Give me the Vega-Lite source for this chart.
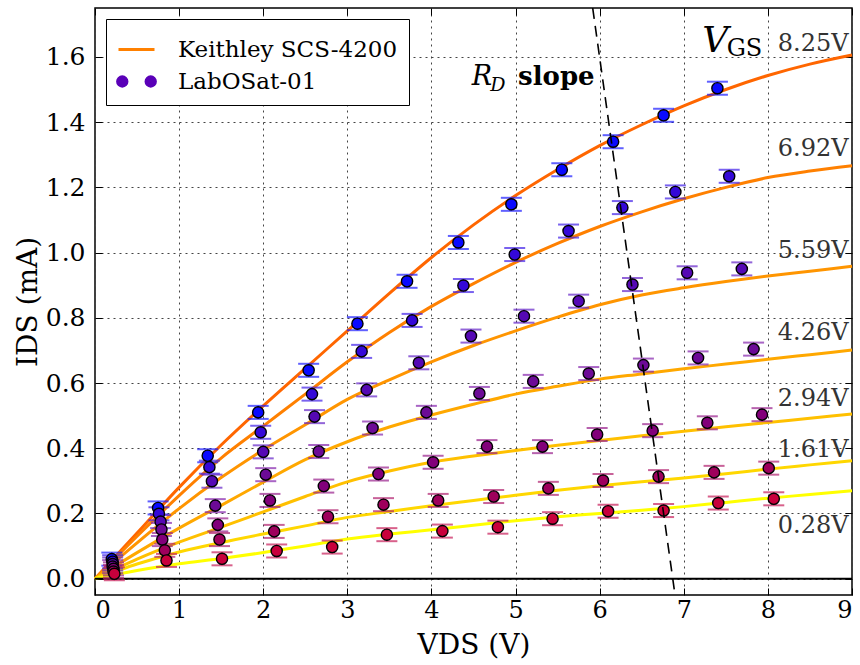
{
  "$schema": "https://vega.github.io/schema/vega-lite/v6.json",
  "width": 757,
  "height": 587,
  "autosize": {"type": "none"},
  "padding": {"left": 95, "top": 8, "right": 8, "bottom": 70},
  "background": "white",
  "config": {
    "font": "DejaVu Serif",
    "view": {"stroke": "black", "strokeWidth": 1.5},
    "legend": {
      "orient": "top-left",
      "offset": 11,
      "title": null,
      "strokeColor": "black",
      "fillColor": "white",
      "padding": 11,
      "labelFont": "DejaVu Serif",
      "labelFontSize": 23,
      "labelColor": "black",
      "labelOffset": 22,
      "symbolSize": 1296,
      "symbolStrokeWidth": 3,
      "symbolOpacity": 1,
      "rowPadding": -3,
      "labelLimit": 400
    }
  },
  "datasets": {
    "fit": [
      {"g":"8.25","v":0,"i":0},{"g":"8.25","v":0.5,"i":0.14},{"g":"8.25","v":1,"i":0.28},{"g":"8.25","v":1.5,"i":0.41},{"g":"8.25","v":2,"i":0.53},{"g":"8.25","v":2.5,"i":0.645},{"g":"8.25","v":3,"i":0.76},{"g":"8.25","v":3.5,"i":0.875},{"g":"8.25","v":4,"i":0.985},{"g":"8.25","v":4.5,"i":1.085},{"g":"8.25","v":5,"i":1.175},{"g":"8.25","v":5.5,"i":1.255},{"g":"8.25","v":6,"i":1.328},{"g":"8.25","v":6.5,"i":1.392},{"g":"8.25","v":7,"i":1.45},{"g":"8.25","v":7.5,"i":1.5},{"g":"8.25","v":8,"i":1.543},{"g":"8.25","v":8.5,"i":1.578},{"g":"8.25","v":9,"i":1.606},
      {"g":"6.92","v":0,"i":0},{"g":"6.92","v":0.5,"i":0.13},{"g":"6.92","v":1,"i":0.255},{"g":"6.92","v":1.5,"i":0.37},{"g":"6.92","v":2,"i":0.468},{"g":"6.92","v":2.5,"i":0.566},{"g":"6.92","v":3,"i":0.665},{"g":"6.92","v":3.5,"i":0.755},{"g":"6.92","v":4,"i":0.835},{"g":"6.92","v":4.5,"i":0.905},{"g":"6.92","v":5,"i":0.97},{"g":"6.92","v":5.5,"i":1.028},{"g":"6.92","v":6,"i":1.08},{"g":"6.92","v":6.5,"i":1.125},{"g":"6.92","v":7,"i":1.165},{"g":"6.92","v":7.5,"i":1.2},{"g":"6.92","v":8,"i":1.23},{"g":"6.92","v":8.5,"i":1.25},{"g":"6.92","v":9,"i":1.266},
      {"g":"5.59","v":0,"i":0},{"g":"5.59","v":0.5,"i":0.11},{"g":"5.59","v":1,"i":0.215},{"g":"5.59","v":1.5,"i":0.31},{"g":"5.59","v":2,"i":0.395},{"g":"5.59","v":2.5,"i":0.472},{"g":"5.59","v":3,"i":0.55},{"g":"5.59","v":3.5,"i":0.61},{"g":"5.59","v":4,"i":0.665},{"g":"5.59","v":4.5,"i":0.715},{"g":"5.59","v":5,"i":0.76},{"g":"5.59","v":5.5,"i":0.802},{"g":"5.59","v":6,"i":0.84},{"g":"5.59","v":6.5,"i":0.87},{"g":"5.59","v":7,"i":0.892},{"g":"5.59","v":7.5,"i":0.911},{"g":"5.59","v":8,"i":0.928},{"g":"5.59","v":8.5,"i":0.943},{"g":"5.59","v":9,"i":0.958},
      {"g":"4.26","v":0,"i":0},{"g":"4.26","v":0.5,"i":0.08},{"g":"4.26","v":1,"i":0.155},{"g":"4.26","v":1.5,"i":0.225},{"g":"4.26","v":2,"i":0.296},{"g":"4.26","v":2.5,"i":0.365},{"g":"4.26","v":3,"i":0.42},{"g":"4.26","v":3.5,"i":0.465},{"g":"4.26","v":4,"i":0.502},{"g":"4.26","v":4.5,"i":0.535},{"g":"4.26","v":5,"i":0.566},{"g":"4.26","v":5.5,"i":0.59},{"g":"4.26","v":6,"i":0.612},{"g":"4.26","v":6.5,"i":0.628},{"g":"4.26","v":7,"i":0.644},{"g":"4.26","v":7.5,"i":0.658},{"g":"4.26","v":8,"i":0.673},{"g":"4.26","v":8.5,"i":0.687},{"g":"4.26","v":9,"i":0.701},
      {"g":"2.94","v":0,"i":0},{"g":"2.94","v":0.5,"i":0.06},{"g":"2.94","v":1,"i":0.112},{"g":"2.94","v":1.5,"i":0.158},{"g":"2.94","v":2,"i":0.205},{"g":"2.94","v":2.5,"i":0.252},{"g":"2.94","v":3,"i":0.297},{"g":"2.94","v":3.5,"i":0.33},{"g":"2.94","v":4,"i":0.357},{"g":"2.94","v":4.5,"i":0.376},{"g":"2.94","v":5,"i":0.393},{"g":"2.94","v":5.5,"i":0.409},{"g":"2.94","v":6,"i":0.424},{"g":"2.94","v":6.5,"i":0.438},{"g":"2.94","v":7,"i":0.452},{"g":"2.94","v":7.5,"i":0.466},{"g":"2.94","v":8,"i":0.479},{"g":"2.94","v":8.5,"i":0.492},{"g":"2.94","v":9,"i":0.505},
      {"g":"1.61","v":0,"i":0},{"g":"1.61","v":0.5,"i":0.045},{"g":"1.61","v":1,"i":0.082},{"g":"1.61","v":1.5,"i":0.111},{"g":"1.61","v":2,"i":0.137},{"g":"1.61","v":2.5,"i":0.162},{"g":"1.61","v":3,"i":0.188},{"g":"1.61","v":3.5,"i":0.206},{"g":"1.61","v":4,"i":0.224},{"g":"1.61","v":4.5,"i":0.24},{"g":"1.61","v":5,"i":0.256},{"g":"1.61","v":5.5,"i":0.271},{"g":"1.61","v":6,"i":0.285},{"g":"1.61","v":6.5,"i":0.297},{"g":"1.61","v":7,"i":0.309},{"g":"1.61","v":7.5,"i":0.322},{"g":"1.61","v":8,"i":0.336},{"g":"1.61","v":8.5,"i":0.349},{"g":"1.61","v":9,"i":0.362},
      {"g":"0.28","v":0,"i":0},{"g":"0.28","v":0.5,"i":0.025},{"g":"0.28","v":1,"i":0.046},{"g":"0.28","v":1.5,"i":0.062},{"g":"0.28","v":2,"i":0.08},{"g":"0.28","v":2.5,"i":0.1},{"g":"0.28","v":3,"i":0.122},{"g":"0.28","v":3.5,"i":0.137},{"g":"0.28","v":4,"i":0.15},{"g":"0.28","v":4.5,"i":0.164},{"g":"0.28","v":5,"i":0.178},{"g":"0.28","v":5.5,"i":0.19},{"g":"0.28","v":6,"i":0.2},{"g":"0.28","v":6.5,"i":0.21},{"g":"0.28","v":7,"i":0.221},{"g":"0.28","v":7.5,"i":0.234},{"g":"0.28","v":8,"i":0.247},{"g":"0.28","v":8.5,"i":0.258},{"g":"0.28","v":9,"i":0.27}
    ],
    "meas": [
      {"g":"8.25","v":0.2,"i":0.06,"err":0.02},{"g":"8.25","v":0.75,"i":0.217,"err":0.02},{"g":"8.25","v":1.34,"i":0.377,"err":0.02},{"g":"8.25","v":1.94,"i":0.51,"err":0.02},{"g":"8.25","v":2.54,"i":0.639,"err":0.02},{"g":"8.25","v":3.12,"i":0.782,"err":0.02},{"g":"8.25","v":3.71,"i":0.912,"err":0.02},{"g":"8.25","v":4.32,"i":1.031,"err":0.02},{"g":"8.25","v":4.95,"i":1.148,"err":0.02},{"g":"8.25","v":5.55,"i":1.254,"err":0.02},{"g":"8.25","v":6.16,"i":1.34,"err":0.02},{"g":"8.25","v":6.76,"i":1.421,"err":0.02},{"g":"8.25","v":7.4,"i":1.504,"err":0.02},
      {"g":"6.92","v":0.21,"i":0.052,"err":0.02},{"g":"6.92","v":0.76,"i":0.199,"err":0.02},{"g":"6.92","v":1.36,"i":0.342,"err":0.02},{"g":"6.92","v":1.97,"i":0.449,"err":0.02},{"g":"6.92","v":2.58,"i":0.566,"err":0.02},{"g":"6.92","v":3.17,"i":0.697,"err":0.02},{"g":"6.92","v":3.77,"i":0.792,"err":0.02},{"g":"6.92","v":4.38,"i":0.899,"err":0.02},{"g":"6.92","v":4.99,"i":0.994,"err":0.02},{"g":"6.92","v":5.63,"i":1.066,"err":0.02},{"g":"6.92","v":6.27,"i":1.138,"err":0.02},{"g":"6.92","v":6.9,"i":1.186,"err":0.02},{"g":"6.92","v":7.54,"i":1.234,"err":0.02},
      {"g":"5.59","v":0.21,"i":0.045,"err":0.02},{"g":"5.59","v":0.78,"i":0.175,"err":0.02},{"g":"5.59","v":1.39,"i":0.299,"err":0.02},{"g":"5.59","v":2.0,"i":0.389,"err":0.02},{"g":"5.59","v":2.61,"i":0.497,"err":0.02},{"g":"5.59","v":3.23,"i":0.579,"err":0.02},{"g":"5.59","v":3.85,"i":0.662,"err":0.02},{"g":"5.59","v":4.47,"i":0.744,"err":0.02},{"g":"5.59","v":5.1,"i":0.805,"err":0.02},{"g":"5.59","v":5.75,"i":0.851,"err":0.02},{"g":"5.59","v":6.39,"i":0.902,"err":0.02},{"g":"5.59","v":7.04,"i":0.938,"err":0.02},{"g":"5.59","v":7.69,"i":0.95,"err":0.02},
      {"g":"4.26","v":0.21,"i":0.037,"err":0.02},{"g":"4.26","v":0.79,"i":0.151,"err":0.02},{"g":"4.26","v":1.43,"i":0.224,"err":0.02},{"g":"4.26","v":2.03,"i":0.319,"err":0.02},{"g":"4.26","v":2.66,"i":0.39,"err":0.02},{"g":"4.26","v":3.3,"i":0.462,"err":0.02},{"g":"4.26","v":3.94,"i":0.51,"err":0.02},{"g":"4.26","v":4.57,"i":0.568,"err":0.02},{"g":"4.26","v":5.21,"i":0.605,"err":0.02},{"g":"4.26","v":5.87,"i":0.629,"err":0.02},{"g":"4.26","v":6.52,"i":0.655,"err":0.02},{"g":"4.26","v":7.17,"i":0.677,"err":0.02},{"g":"4.26","v":7.83,"i":0.704,"err":0.02},
      {"g":"2.94","v":0.22,"i":0.03,"err":0.02},{"g":"2.94","v":0.8,"i":0.12,"err":0.02},{"g":"2.94","v":1.46,"i":0.165,"err":0.02},{"g":"2.94","v":2.08,"i":0.24,"err":0.02},{"g":"2.94","v":2.72,"i":0.284,"err":0.02},{"g":"2.94","v":3.37,"i":0.321,"err":0.02},{"g":"2.94","v":4.02,"i":0.357,"err":0.02},{"g":"2.94","v":4.66,"i":0.405,"err":0.02},{"g":"2.94","v":5.32,"i":0.405,"err":0.02},{"g":"2.94","v":5.97,"i":0.442,"err":0.02},{"g":"2.94","v":6.63,"i":0.454,"err":0.02},{"g":"2.94","v":7.28,"i":0.478,"err":0.02},{"g":"2.94","v":7.93,"i":0.503,"err":0.02},
      {"g":"1.61","v":0.22,"i":0.022,"err":0.02},{"g":"1.61","v":0.83,"i":0.087,"err":0.02},{"g":"1.61","v":1.48,"i":0.12,"err":0.02},{"g":"1.61","v":2.13,"i":0.145,"err":0.02},{"g":"1.61","v":2.77,"i":0.19,"err":0.02},{"g":"1.61","v":3.43,"i":0.227,"err":0.02},{"g":"1.61","v":4.08,"i":0.24,"err":0.02},{"g":"1.61","v":4.74,"i":0.252,"err":0.02},{"g":"1.61","v":5.39,"i":0.277,"err":0.02},{"g":"1.61","v":6.04,"i":0.301,"err":0.02},{"g":"1.61","v":6.7,"i":0.313,"err":0.02},{"g":"1.61","v":7.36,"i":0.326,"err":0.02},{"g":"1.61","v":8.01,"i":0.339,"err":0.02},
      {"g":"0.28","v":0.23,"i":0.015,"err":0.02},{"g":"0.28","v":0.85,"i":0.056,"err":0.02},{"g":"0.28","v":1.51,"i":0.061,"err":0.02},{"g":"0.28","v":2.16,"i":0.085,"err":0.02},{"g":"0.28","v":2.82,"i":0.097,"err":0.02},{"g":"0.28","v":3.47,"i":0.135,"err":0.02},{"g":"0.28","v":4.13,"i":0.146,"err":0.02},{"g":"0.28","v":4.79,"i":0.158,"err":0.02},{"g":"0.28","v":5.44,"i":0.184,"err":0.02},{"g":"0.28","v":6.1,"i":0.207,"err":0.02},{"g":"0.28","v":6.76,"i":0.209,"err":0.02},{"g":"0.28","v":7.41,"i":0.232,"err":0.02},{"g":"0.28","v":8.07,"i":0.245,"err":0.02}
    ],
    "rd": [{"v":5.917,"i":1.75},{"v":6.896,"i":-0.05}],
    "vlabels": [
      {"x":8.96,"y":1.618,"text":"8.25V"},
      {"x":8.96,"y":1.296,"text":"6.92V"},
      {"x":8.96,"y":0.983,"text":"5.59V"},
      {"x":8.96,"y":0.731,"text":"4.26V"},
      {"x":8.96,"y":0.531,"text":"2.94V"},
      {"x":8.96,"y":0.374,"text":"1.61V"},
      {"x":8.96,"y":0.14,"text":"0.28V"}
    ],
    "legend": [{"src":"Keithley SCS-4200"},{"src":"LabOSat-01"}]
  },
  "layer": [
    {
      "data": {"name": "fit"},
      "mark": {"type": "line", "strokeWidth": 3, "interpolate": "monotone"},
      "encoding": {
        "x": {"field": "v", "type": "quantitative", "scale": {"domain": [0, 9], "nice": false, "zero": false},
          "axis": {"orient": "bottom", "values": [0,1,2,3,4,5,6,7,8,9], "format": "d", "grid": true, "gridDash": [2, 4], "gridColor": "#444", "gridWidth": 1, "domain": false, "tickSize": -7, "tickColor": "black", "labelFontSize": 24, "labelColor": "black", "labelFont": "DejaVu Serif", "labelPadding": 10, "title": "VDS (V)", "titleFont": "DejaVu Serif", "titleFontSize": 28, "titleFontWeight": "normal", "titleColor": "black", "titlePadding": 9}},
        "y": {"field": "i", "type": "quantitative", "scale": {"domain": [-0.05, 1.75], "nice": false, "zero": false},
          "axis": {"orient": "left", "values": [0,0.2,0.4,0.6,0.8,1.0,1.2,1.4,1.6], "format": ".1f", "grid": true, "gridDash": [2, 4], "gridColor": "#444", "gridWidth": 1, "domain": false, "tickSize": -7, "tickColor": "black", "labelFontSize": 25, "labelColor": "black", "labelFont": "DejaVu Serif", "labelPadding": 17, "title": "IDS (mA)", "titleFont": "DejaVu Serif", "titleFontSize": 28, "titleFontWeight": "normal", "titleColor": "black", "titlePadding": 3}},
        "stroke": {"field": "g", "type": "nominal", "legend": null,
          "scale": {"domain": ["0.28","1.61","2.94","4.26","5.59","6.92","8.25"], "range": ["#ffff00","#ffd700","#ffc000","#ffa800","#ff9500","#ff8000","#ff6600"]}}
      }
    },
    {
      "data": {"values": [{}]},
      "mark": {"type": "rule", "color": "black", "strokeWidth": 2},
      "encoding": {"y": {"datum": 0, "type": "quantitative", "scale": {"domain": [-0.05, 1.75], "nice": false, "zero": false}, "axis": null}}
    },
    {
      "data": {"name": "meas"},
      "mark": {"type": "errorbar", "ticks": {"size": 21, "thickness": 2}, "thickness": 1.5},
      "encoding": {
        "x": {"field": "v", "type": "quantitative", "scale": {"domain": [0, 9], "nice": false, "zero": false}, "axis": null},
        "y": {"field": "i", "type": "quantitative", "scale": {"domain": [-0.05, 1.75], "nice": false, "zero": false}, "axis": null},
        "yError": {"field": "err"},
        "color": {"field": "g", "type": "nominal", "legend": null,
          "scale": {"domain": ["0.28","1.61","2.94","4.26","5.59","6.92","8.25"], "range": ["#c81e5a","#b0206e","#98208c","#8424ac","#6424c8","#4020e8","#1c1cff"]}}
      }
    },
    {
      "data": {"name": "meas"},
      "mark": {"type": "point", "shape": "circle", "filled": true, "opacity": 1, "size": 125, "stroke": "black", "strokeWidth": 1.4},
      "encoding": {
        "x": {"field": "v", "type": "quantitative", "scale": {"domain": [0, 9], "nice": false, "zero": false}, "axis": null},
        "y": {"field": "i", "type": "quantitative", "scale": {"domain": [-0.05, 1.75], "nice": false, "zero": false}, "axis": null},
        "color": {"field": "g", "type": "nominal", "legend": null,
          "scale": {"domain": ["0.28","1.61","2.94","4.26","5.59","6.92","8.25"], "range": ["#c8003c","#9e005c","#82007a","#6c0a96","#5508b4","#3408d8","#0a0aff"]}}
      }
    },
    {
      "data": {"name": "rd"},
      "mark": {"type": "line", "color": "black", "strokeWidth": 1.6, "strokeDash": [11, 7], "clip": true},
      "encoding": {
        "x": {"field": "v", "type": "quantitative", "scale": {"domain": [0, 9], "nice": false, "zero": false},
          "axis": {"orient": "top", "values": [0,1,2,3,4,5,6,7,8,9], "labels": false, "grid": false, "domain": false, "tickSize": -7, "tickColor": "black", "title": null}},
        "y": {"field": "i", "type": "quantitative", "scale": {"domain": [-0.05, 1.75], "nice": false, "zero": false},
          "axis": {"orient": "right", "values": [0,0.2,0.4,0.6,0.8,1.0,1.2,1.4,1.6], "labels": false, "grid": false, "domain": false, "tickSize": -7, "tickColor": "black", "title": null}}
      }
    },
    {
      "data": {"name": "vlabels"},
      "mark": {"type": "text", "align": "right", "baseline": "alphabetic", "fontSize": 24, "font": "DejaVu Serif", "color": "#333"},
      "encoding": {
        "x": {"field": "x", "type": "quantitative", "scale": {"domain": [0, 9], "nice": false, "zero": false}, "axis": null},
        "y": {"field": "y", "type": "quantitative", "scale": {"domain": [-0.05, 1.75], "nice": false, "zero": false}, "axis": null},
        "text": {"field": "text"}
      }
    },
    {
      "data": {"values": [{}]},
      "mark": {"type": "text", "align": "right", "baseline": "alphabetic", "fontSize": 36, "fontStyle": "italic", "font": "DejaVu Serif", "color": "black"},
      "encoding": {
        "x": {"datum": 7.53, "type": "quantitative", "scale": {"domain": [0, 9], "nice": false, "zero": false}, "axis": null},
        "y": {"datum": 1.615, "type": "quantitative", "scale": {"domain": [-0.05, 1.75], "nice": false, "zero": false}, "axis": null},
        "text": {"value": "V"}
      }
    },
    {
      "data": {"values": [{}]},
      "mark": {"type": "text", "align": "left", "baseline": "alphabetic", "fontSize": 24, "font": "DejaVu Serif", "color": "black"},
      "encoding": {
        "x": {"datum": 7.51, "type": "quantitative", "scale": {"domain": [0, 9], "nice": false, "zero": false}, "axis": null},
        "y": {"datum": 1.602, "type": "quantitative", "scale": {"domain": [-0.05, 1.75], "nice": false, "zero": false}, "axis": null},
        "text": {"value": "GS"}
      }
    },
    {
      "data": {"values": [{}]},
      "mark": {"type": "text", "align": "right", "baseline": "alphabetic", "fontSize": 27, "fontStyle": "italic", "font": "DejaVu Serif", "color": "black"},
      "encoding": {
        "x": {"datum": 4.72, "type": "quantitative", "scale": {"domain": [0, 9], "nice": false, "zero": false}, "axis": null},
        "y": {"datum": 1.514, "type": "quantitative", "scale": {"domain": [-0.05, 1.75], "nice": false, "zero": false}, "axis": null},
        "text": {"value": "R"}
      }
    },
    {
      "data": {"values": [{}]},
      "mark": {"type": "text", "align": "left", "baseline": "alphabetic", "fontSize": 19, "fontStyle": "italic", "font": "DejaVu Serif", "color": "black"},
      "encoding": {
        "x": {"datum": 4.7, "type": "quantitative", "scale": {"domain": [0, 9], "nice": false, "zero": false}, "axis": null},
        "y": {"datum": 1.497, "type": "quantitative", "scale": {"domain": [-0.05, 1.75], "nice": false, "zero": false}, "axis": null},
        "text": {"value": "D"}
      }
    },
    {
      "data": {"values": [{}]},
      "mark": {"type": "text", "align": "left", "baseline": "alphabetic", "fontSize": 26, "fontWeight": "bold", "font": "DejaVu Serif", "color": "black"},
      "encoding": {
        "x": {"datum": 5.03, "type": "quantitative", "scale": {"domain": [0, 9], "nice": false, "zero": false}, "axis": null},
        "y": {"datum": 1.514, "type": "quantitative", "scale": {"domain": [-0.05, 1.75], "nice": false, "zero": false}, "axis": null},
        "text": {"value": "slope"}
      }
    },
    {
      "data": {"name": "legend"},
      "transform": [{"filter": "false"}],
      "mark": {"type": "point", "filled": true, "opacity": 1},
      "encoding": {
        "shape": {"field": "src", "type": "nominal",
          "scale": {"domain": ["Keithley SCS-4200", "LabOSat-01"], "range": ["M-1,0H1", "M-1.05,0a0.26,0.26 0 1,0 0.52,0a0.26,0.26 0 1,0 -0.52,0M0.53,0a0.26,0.26 0 1,0 0.52,0a0.26,0.26 0 1,0 -0.52,0"]}},
        "fill": {"field": "src", "type": "nominal",
          "scale": {"domain": ["Keithley SCS-4200", "LabOSat-01"], "range": ["#ff8000", "#5a00b8"]}},
        "stroke": {"field": "src", "type": "nominal",
          "scale": {"domain": ["Keithley SCS-4200", "LabOSat-01"], "range": ["#ff8000", "#5a00b8"]}}
      }
    }
  ],
  "resolve": {
    "scale": {"color": "independent", "fill": "independent", "stroke": "independent", "shape": "independent"},
    "axis": {"x": "independent", "y": "independent"}
  }
}
